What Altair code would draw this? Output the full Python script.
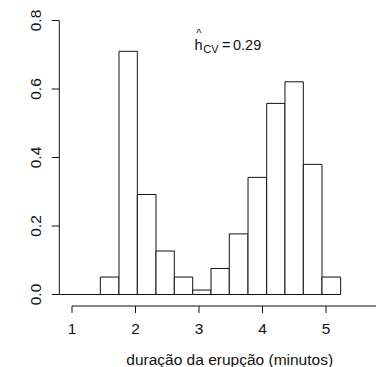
import altair as alt
import pandas as pd

# Histogram of eruption durations (density scale), bin width h = 0.29
bin_edges = [1.446, 1.740, 2.029, 2.323, 2.611, 2.901, 3.189, 3.477,
             3.772, 4.066, 4.354, 4.643, 4.937, 5.231]
densities = [0.051, 0.710, 0.292, 0.127, 0.051, 0.013, 0.076,
             0.177, 0.342, 0.558, 0.621, 0.380, 0.051]

x_ticks = [1, 2, 3, 4, 5]
x_tick_labels = ["1", "2", "3", "4", "5"]
y_ticks = [0.0, 0.2, 0.4, 0.6, 0.8]
y_tick_labels = ["0.0", "0.2", "0.4", "0.6", "0.8"]

x_title = "duração da erupção (minutos)"
FONT = "Liberation Sans"
INK = "#111111"

bins = pd.DataFrame({
    "left": bin_edges[:-1],
    "right": bin_edges[1:],
    "density": densities,
    "zero": 0.0,
})

# Shared scales: plain linear maps, R-style axes drawn by hand below
xs = alt.Scale(domain=[1, 5], range=[13, 267], nice=False, zero=False)
ys = alt.Scale(domain=[0, 0.8], range=[274, 0], nice=False, zero=False)


def X(field, **kw):
    return alt.X(field, type="quantitative", scale=xs, axis=None, **kw)


def Y(field, **kw):
    return alt.Y(field, type="quantitative", scale=ys, axis=None, **kw)


# zero-height bins show as a flat line along the baseline
baseline = alt.Chart(pd.DataFrame({"a": [0.8], "b": [bin_edges[-1]], "v": [0.0]})).mark_rule(
    color=INK, strokeWidth=1
).encode(x=X("a"), x2="b", y=Y("v"))

bars = alt.Chart(bins).mark_rect(
    fill="white", stroke=INK, strokeWidth=1
).encode(x=X("left"), x2="right", y=Y("density"), y2="zero")

# y axis: line, ticks and rotated labels
y_line = alt.Chart(pd.DataFrame({"a": [0.8], "v0": [0.0], "v1": [0.8]})).mark_rule(
    color=INK, strokeWidth=1
).encode(x=X("a"), y=Y("v0"), y2="v1")

ydf = pd.DataFrame({"v": y_ticks, "label": y_tick_labels, "a": 0.8, "b": 0.68, "lx": 0.512})
y_tick_marks = alt.Chart(ydf).mark_rule(color=INK, strokeWidth=1).encode(
    x=X("b"), x2="a", y=Y("v")
)
y_labels = alt.Chart(ydf).mark_text(
    font=FONT, fontSize=15.5, color=INK, angle=270, align="center", baseline="alphabetic"
).encode(x=X("lx"), y=Y("v"), text="label")

# x axis: line below the plot running off the right edge, ticks and labels
x_line = alt.Chart(pd.DataFrame({"a": [1.0], "b": [6.0], "v": [-0.0336]})).mark_rule(
    color=INK, strokeWidth=1
).encode(x=X("a"), x2="b", y=Y("v"))

xdf = pd.DataFrame({"d": x_ticks, "label": x_tick_labels, "v0": -0.0336, "v1": -0.054, "lv": -0.1153})
x_tick_marks = alt.Chart(xdf).mark_rule(color=INK, strokeWidth=1).encode(
    x=X("d"), y=Y("v0"), y2="v1"
)
x_labels = alt.Chart(xdf).mark_text(
    font=FONT, fontSize=15.5, color=INK, align="center", baseline="alphabetic"
).encode(x=X("d"), y=Y("lv"), text="label")

x_axis_title = alt.Chart(pd.DataFrame({"d": [3.483], "v": [-0.2058], "t": [x_title]})).mark_text(
    font=FONT, fontSize=15.5, color=INK, align="center", baseline="alphabetic"
).encode(x=X("d"), y=Y("v"), text="t")

# annotation: h-hat with subscript CV = 0.29
ann = pd.DataFrame({
    "d": [2.930, 2.998, 3.068, 3.362, 3.535],
    "v": [0.7140, 0.753, 0.7050, 0.7140, 0.7140],
    "t": ["h", "^", "CV", "=", "0.29"],
    "size": [14.5, 11, 11, 14.5, 14.5],
    "al": ["left", "center", "left", "left", "left"],
})
ann_parts = []
for _, r in ann.iterrows():
    ann_parts.append(
        alt.Chart(pd.DataFrame([r])).mark_text(
            font=FONT, fontSize=float(r["size"]), color=INK, align=r["al"], baseline="alphabetic"
        ).encode(x=X("d"), y=Y("v"), text="t")
    )

chart = alt.layer(
    baseline, bars, y_line, y_tick_marks, y_labels,
    x_line, x_tick_marks, x_labels, x_axis_title, *ann_parts
).properties(
    width=317, height=274,
    padding={"left": 59, "top": 20.5, "right": 0, "bottom": 72.5},
    autosize=alt.AutoSizeParams(type="none"),
    background="white",
).configure_view(stroke=None)

chart.save("out.html", embed_options={"renderer": "svg", "actions": False})
